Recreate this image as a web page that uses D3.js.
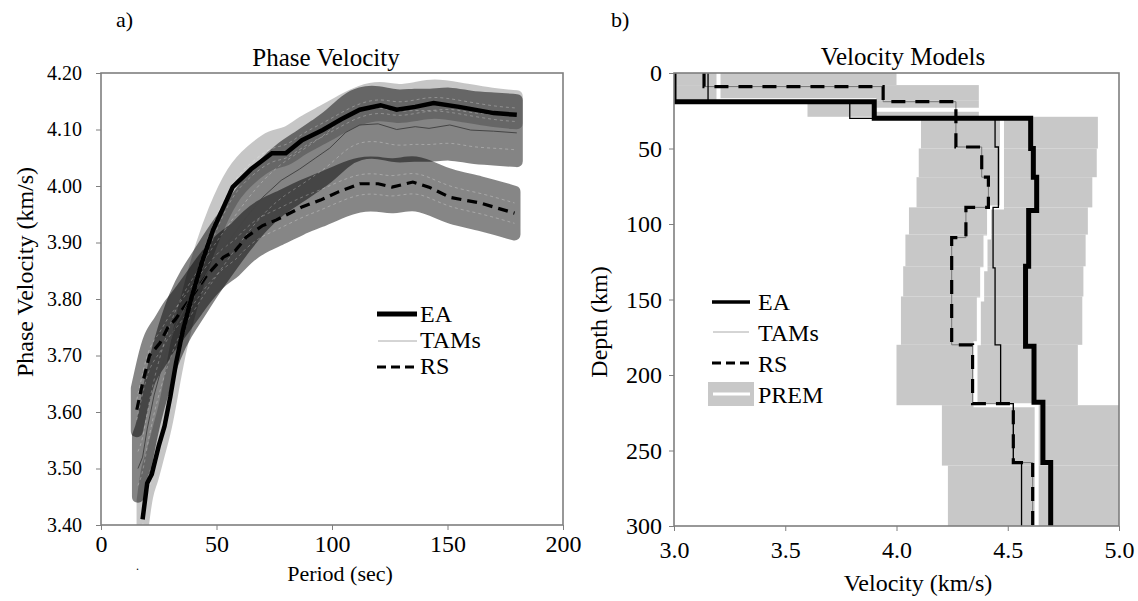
<!DOCTYPE html>
<html><head><meta charset="utf-8">
<script src="https://cdn.jsdelivr.net/npm/d3@7"></script>
<style>
body{margin:0;background:#fff}
svg{display:block;font-family:"Liberation Serif","Times New Roman",serif}
svg text{font-family:"Liberation Serif","Times New Roman",serif}
</style></head><body>
<svg id="fig" width="1138" height="601"></svg>
<script>
// ---- a) Phase velocity dispersion curves: period (s) vs velocity (km/s)
const eaPeriod = [18, 20, 22, 25, 27.5, 30, 32.5, 35.5, 39.3, 43.6, 48.5, 57, 65, 74, 80, 87, 96, 104, 112, 121, 128, 136, 144, 155, 170, 180];
const eaVel    = [3.41, 3.474, 3.49, 3.54, 3.575, 3.627, 3.687, 3.745, 3.804, 3.864, 3.922, 3.998, 4.03, 4.058, 4.058, 4.081, 4.099, 4.118, 4.135, 4.143, 4.135, 4.14, 4.147, 4.14, 4.129, 4.126];

const tamsPeriod = [16, 18, 20, 23, 27, 32, 37, 42, 48, 55, 62, 70, 78, 86, 93, 99, 106, 112, 120, 128, 136, 142, 151, 160, 170, 180];
const tamsVel    = [3.50, 3.52, 3.57, 3.63, 3.69, 3.75, 3.79, 3.82, 3.86, 3.90, 3.94, 3.98, 4.01, 4.03, 4.05, 4.067, 4.095, 4.108, 4.11, 4.10, 4.105, 4.102, 4.108, 4.099, 4.097, 4.094];

const rsPeriod = [15.5, 18, 21, 25.5, 29, 32, 38.5, 42, 46, 53, 58, 63, 70, 76, 87, 95, 103, 112, 120, 126, 135, 142, 151, 164, 179];
const rsVel    = [3.604, 3.651, 3.70, 3.722, 3.75, 3.763, 3.80, 3.82, 3.843, 3.874, 3.885, 3.91, 3.93, 3.94, 3.963, 3.975, 3.99, 4.004, 4.004, 3.998, 4.007, 3.998, 3.98, 3.97, 3.952];

// extent (km/s) of the shaded uncertainty bands above / below each curve,
// and of the inner bounds
const eaBandUp = 0.033,   eaBandDown = 0.015,   eaInner = 0.012;
const tamsBandUp = 0.058, tamsBandDown = 0.05,  tamsInner = 0.03;
const rsBandUp = 0.038,   rsBandDown = 0.038,   rsInner = 0.018;

const periodTicks = [0, 50, 100, 150, 200];
const phaseTicks = [3.40, 3.50, 3.60, 3.70, 3.80, 3.90, 4.00, 4.10, 4.20];

// ---- b) Shear velocity models: layer depths (km) and velocities (km/s)
const eaDepth = [0, 19, 30, 50, 69, 91, 128, 181, 218, 258, 300];
const eaVs    = [3.0, 3.90, 4.603, 4.615, 4.63, 4.594, 4.58, 4.618, 4.658, 4.693];

const tamsDepth = [0, 19, 30, 49, 89, 129, 180, 219, 258, 300];
const tamsVs    = [3.153, 3.79, 4.443, 4.458, 4.434, 4.443, 4.468, 4.525, 4.562];

const rsDepth = [0, 9, 19, 49, 69, 89, 109, 180, 219, 258, 300];
const rsVs    = [3.135, 3.94, 4.267, 4.383, 4.413, 4.312, 4.248, 4.342, 4.525, 4.612];

const premDepth = [0, 18, 24.4, 89, 109, 130, 150, 179, 220, 300];
const premVs    = [3.2, 3.9, 4.474, 4.416, 4.40, 4.385, 4.37, 4.355, 4.63];

// search range of each layer (shaded boxes)
const rangeDepth = [0, 8, 18, 29, 50, 69, 89, 107, 128, 148, 180, 220, 260, 300];
const rangeMin   = [3.0, 3.0, 3.6, 4.11, 4.10, 4.09, 4.056, 4.04, 4.03, 4.02, 4.00, 4.204, 4.231];
const rangeMax   = [4.0, 4.37, 4.37, 4.905, 4.90, 4.88, 4.86, 4.85, 4.84, 4.835, 4.815, 5.0, 5.0];

const velTicks = [3.0, 3.5, 4.0, 4.5, 5.0];
const depthTicks = [0, 50, 100, 150, 200, 250, 300];

const svg = d3.select("#fig");
const axisColor = "#7f7f7f";
const serif = '"Liberation Serif", "Times New Roman", serif';

function styleAxis(a, size) {
  a.attr("font-family", serif).attr("font-size", size);
  a.select(".domain").remove();
  a.selectAll("line").attr("stroke", axisColor);
  a.selectAll("text").attr("fill", "#000");
}

// ================= panel a =================
const xA = d3.scaleLinear().domain([0, 200]).range([101, 563]);
const yA = d3.scaleLinear().domain([3.4, 4.2]).range([525, 73]);

svg.append("clipPath").attr("id", "clipA").append("rect")
  .attr("x", 101).attr("y", 73).attr("width", 462).attr("height", 452);

const gA = svg.append("g").attr("clip-path", "url(#clipA)");

function zipSeries(p, v) { return p.map((d, i) => ({p: d, v: v[i]})); }
const ea = zipSeries(eaPeriod, eaVel);
const tams = zipSeries(tamsPeriod, tamsVel);
const rs = zipSeries(rsPeriod, rsVel);

function band(data, up, down, opacity) {
  const area = d3.area().curve(d3.curveBasis)
    .x(d => xA(d.p)).y0(d => yA(d.v - down)).y1(d => yA(d.v + up));
  gA.append("g").attr("opacity", opacity)
    .append("path").attr("d", area(data))
    .attr("fill", "#000").attr("stroke", "#000")
    .attr("stroke-width", 12).attr("stroke-linejoin", "round");
}
band(ea, eaBandUp, eaBandDown, 0.22);
band(tams, tamsBandUp, tamsBandDown, 0.48);
band(rs, rsBandUp, rsBandDown, 0.47);

function innerBounds(data, hw) {
  [-hw, hw].forEach(o => {
    const ln = d3.line().curve(d3.curveBasis).x(d => xA(d.p)).y(d => yA(d.v + o));
    gA.append("path").attr("d", ln(data)).attr("fill", "none")
      .attr("stroke", "#fff").attr("stroke-opacity", 0.35)
      .attr("stroke-width", 0.8).attr("stroke-dasharray", "3,3");
  });
}
innerBounds(ea, eaInner);
innerBounds(tams, tamsInner);
innerBounds(rs, rsInner);

const lineA = d3.line().x(d => xA(d.p)).y(d => yA(d.v));
gA.append("path").attr("d", lineA(rs)).attr("fill", "none")
  .attr("stroke", "#000").attr("stroke-width", 3.2).attr("stroke-dasharray", "10,6");
gA.append("path").attr("d", lineA(tams)).attr("fill", "none")
  .attr("stroke", "#444").attr("stroke-width", 1);
gA.append("path").attr("d", lineA(ea)).attr("fill", "none")
  .attr("stroke", "#000").attr("stroke-width", 4.5).attr("stroke-linejoin", "miter");

// frame and axes
svg.append("rect").attr("x", 101).attr("y", 73).attr("width", 462).attr("height", 452)
  .attr("fill", "none").attr("stroke", axisColor).attr("stroke-width", 1.6);

const axYA = svg.append("g").attr("transform", "translate(101,0)")
  .call(d3.axisLeft(yA).tickValues(phaseTicks).tickFormat(d3.format(".2f")).tickSize(5).tickPadding(14));
const axXA = svg.append("g").attr("transform", "translate(0,525)")
  .call(d3.axisBottom(xA).tickValues(periodTicks).tickFormat(d3.format("d")).tickSize(5).tickPadding(5));
styleAxis(axYA, 20);
styleAxis(axXA, 24);

svg.append("text").attr("x", 326).attr("y", 66).attr("text-anchor", "middle")
  .style("font-size", "25px").text("Phase Velocity");
svg.append("text").attr("x", 340).attr("y", 581).attr("text-anchor", "middle")
  .style("font-size", "22px").text("Period (sec)");
svg.append("text").attr("transform", "translate(33,272) rotate(-90)").attr("text-anchor", "middle")
  .style("font-size", "24px").text("Phase Velocity (km/s)");
svg.append("text").attr("x", 116).attr("y", 27).style("font-size", "22px").text("a)");
svg.append("text").attr("x", 136).attr("y", 570).style("font-size", "12px").text(".");

// legend a
const legA = svg.append("g");
legA.append("line").attr("x1", 377).attr("x2", 417).attr("y1", 314).attr("y2", 314)
  .attr("stroke", "#000").attr("stroke-width", 5);
legA.append("line").attr("x1", 378).attr("x2", 417).attr("y1", 341).attr("y2", 341)
  .attr("stroke", "#aaa").attr("stroke-width", 1);
legA.append("line").attr("x1", 377).attr("x2", 417).attr("y1", 367).attr("y2", 367)
  .attr("stroke", "#000").attr("stroke-width", 3).attr("stroke-dasharray", "9,5");
[["EA", 322], ["TAMs", 348], ["RS", 374]].forEach(([t, y]) =>
  legA.append("text").attr("x", 420).attr("y", y).style("font-size", "24px").text(t));

// ================= panel b =================
const xB = d3.scaleLinear().domain([3.0, 5.0]).range([674, 1119]);
const yB = d3.scaleLinear().domain([0, 300]).range([73, 526]);

svg.append("clipPath").attr("id", "clipB").append("rect")
  .attr("x", 674).attr("y", 73).attr("width", 445).attr("height", 453);
const gB = svg.append("g").attr("clip-path", "url(#clipB)");

gB.selectAll("rect.range").data(rangeMin).join("rect").attr("class", "range")
  .attr("x", (d, i) => xB(d))
  .attr("y", (d, i) => yB(rangeDepth[i]))
  .attr("width", (d, i) => xB(rangeMax[i]) - xB(d))
  .attr("height", (d, i) => yB(rangeDepth[i + 1]) - yB(rangeDepth[i]))
  .attr("fill", "#c8c8c8");

function stepPoints(depth, vs) {
  const pts = [];
  vs.forEach((v, i) => { pts.push([v, depth[i]]); pts.push([v, depth[i + 1]]); });
  return pts;
}
const lineB = d3.line().x(d => xB(d[0])).y(d => yB(d[1]));

gB.append("path").attr("d", lineB(stepPoints(premDepth, premVs))).attr("fill", "none")
  .attr("stroke", "#fff").attr("stroke-width", 4);
gB.append("path").attr("d", lineB(stepPoints(rsDepth, rsVs))).attr("fill", "none")
  .attr("stroke", "#777").attr("stroke-width", 1);
gB.append("path").attr("d", lineB(stepPoints(rsDepth, rsVs))).attr("fill", "none")
  .attr("stroke", "#000").attr("stroke-width", 3.2).attr("stroke-dasharray", "14,10");
gB.append("path").attr("d", lineB(stepPoints(tamsDepth, tamsVs))).attr("fill", "none")
  .attr("stroke", "#000").attr("stroke-width", 1.3);
gB.append("path").attr("d", lineB(stepPoints(eaDepth, eaVs))).attr("fill", "none")
  .attr("stroke", "#000").attr("stroke-width", 5);

svg.append("rect").attr("x", 674).attr("y", 73).attr("width", 445).attr("height", 453)
  .attr("fill", "none").attr("stroke", axisColor).attr("stroke-width", 1.6);

const axYB = svg.append("g").attr("transform", "translate(674,0)")
  .call(d3.axisLeft(yB).tickValues(depthTicks).tickFormat(d3.format("d")).tickSize(5).tickPadding(7));
const axXB = svg.append("g").attr("transform", "translate(0,526)")
  .call(d3.axisBottom(xB).tickValues(velTicks).tickFormat(d3.format(".1f")).tickSize(5).tickPadding(10));
styleAxis(axYB, 24);
styleAxis(axXB, 24);

svg.append("text").attr("x", 903).attr("y", 65).attr("text-anchor", "middle")
  .style("font-size", "25px").text("Velocity Models");
svg.append("text").attr("x", 918).attr("y", 591).attr("text-anchor", "middle")
  .style("font-size", "24px").text("Velocity (km/s)");
svg.append("text").attr("transform", "translate(607,322) rotate(-90)").attr("text-anchor", "middle")
  .style("font-size", "24px").text("Depth (km)");
svg.append("text").attr("x", 611).attr("y", 27).style("font-size", "22px").text("b)");

// legend b
const legB = svg.append("g");
legB.append("line").attr("x1", 712).attr("x2", 750).attr("y1", 302).attr("y2", 302)
  .attr("stroke", "#000").attr("stroke-width", 3.5);
legB.append("line").attr("x1", 713).attr("x2", 749).attr("y1", 332).attr("y2", 332)
  .attr("stroke", "#aaa").attr("stroke-width", 1);
legB.append("line").attr("x1", 712).attr("x2", 750).attr("y1", 363).attr("y2", 363)
  .attr("stroke", "#000").attr("stroke-width", 3).attr("stroke-dasharray", "9,5");
legB.append("rect").attr("x", 708).attr("y", 382).attr("width", 46).attr("height", 24).attr("fill", "#c8c8c8");
legB.append("line").attr("x1", 713).attr("x2", 750).attr("y1", 394).attr("y2", 394)
  .attr("stroke", "#fff").attr("stroke-width", 3);
[["EA", 310], ["TAMs", 341], ["RS", 372], ["PREM", 403]].forEach(([t, y]) =>
  legB.append("text").attr("x", 758).attr("y", y).style("font-size", "24px").text(t));
</script>
</body></html>
